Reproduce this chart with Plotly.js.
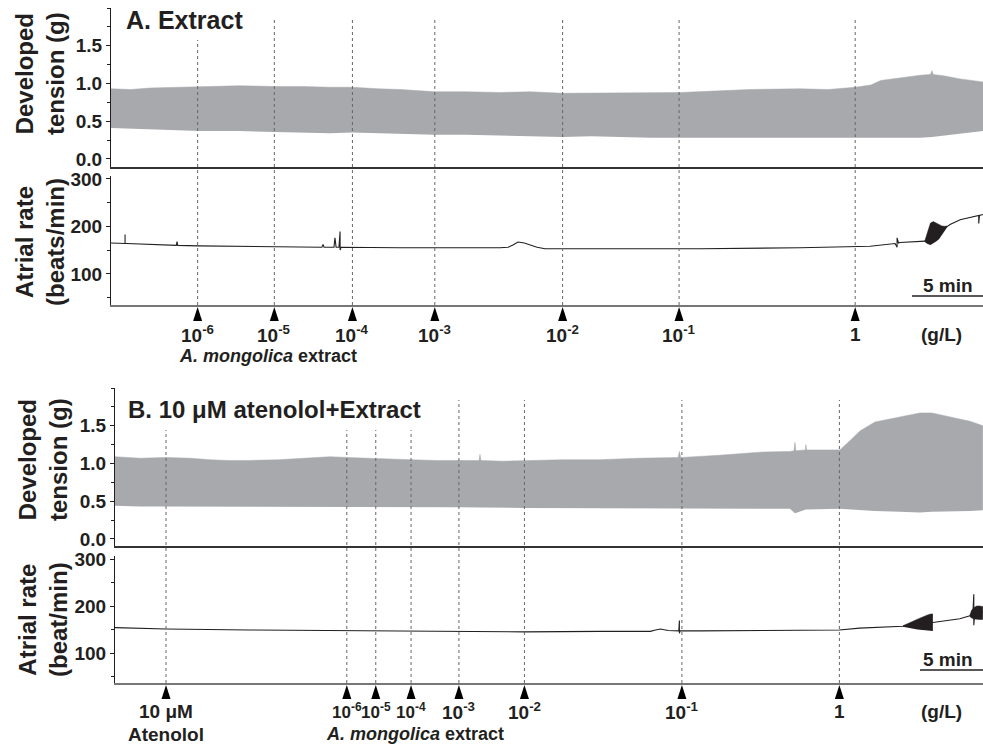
<!DOCTYPE html>
<html><head><meta charset="utf-8">
<script src="https://cdn.plot.ly/plotly-3.0.1.min.js"></script>
<style>html,body{margin:0;padding:0;background:#fff}#chart{width:983px;height:744px}</style>
</head><body><div id="chart"></div>
<script>
// ===================== DATA (time in minutes) =====================
// Panel A : extract alone
const eventsA = [6.1, 11.5, 17.0, 22.8, 31.8, 40.0, 52.4];
const eventLabelsA = ['10<sup>-6</sup>','10<sup>-5</sup>','10<sup>-4</sup>','10<sup>-3</sup>','10<sup>-2</sup>','10<sup>-1</sup>','1'];

const tensionA_hiT = [0, 1.4, 2.75, 4.5, 6.27, 9.0, 11.5, 13.5, 15.4, 17.0, 18.8, 20.4, 22.8, 25.0, 27.4, 29.5, 31.8, 33.8, 35.8, 38.0, 40.1, 42.5, 45.0, 48.5, 50.5, 52.4, 53.5, 54.2, 55.6, 57.0, 57.7, 57.8, 57.9, 58.7, 59.8, 61.4];
const tensionA_hi  = [0.93, 0.92, 0.94, 0.95, 0.96, 0.97, 0.96, 0.96, 0.95, 0.95, 0.93, 0.92, 0.89, 0.89, 0.88, 0.89, 0.87, 0.87, 0.87, 0.88, 0.88, 0.90, 0.92, 0.93, 0.92, 0.95, 0.98, 1.04, 1.08, 1.11, 1.12, 1.17, 1.12, 1.10, 1.06, 1.02];
const tensionA_loT = [0, 1.4, 2.75, 4.5, 6.27, 9.0, 11.5, 13.5, 15.4, 17.0, 18.8, 20.4, 22.8, 25.0, 27.4, 29.5, 31.8, 33.8, 35.8, 38.0, 40.1, 42.5, 45.0, 48.5, 50.5, 52.4, 53.5, 54.2, 55.6, 57.0, 57.8, 58.7, 59.8, 61.4];
const tensionA_lo  = [0.41, 0.40, 0.40, 0.38, 0.37, 0.37, 0.36, 0.35, 0.34, 0.35, 0.34, 0.33, 0.32, 0.32, 0.31, 0.30, 0.29, 0.30, 0.29, 0.28, 0.28, 0.28, 0.28, 0.28, 0.27, 0.27, 0.28, 0.27, 0.28, 0.28, 0.29, 0.31, 0.33, 0.37];

const rateA_t = [0, 0.99, 0.99, 0.99, 1.1, 4.6, 4.65, 4.7, 6.13, 11.48, 14.85, 14.93, 15.0, 15.7, 15.77, 15.85, 16.05, 16.13, 16.13, 16.2, 20.35, 27.39, 27.96, 28.3, 28.66, 29.1, 29.51, 30.0, 30.56, 34.44, 41.48, 48.52, 52.39, 53.45, 55.21, 55.35, 55.35, 55.45, 55.56, 56.97, 57.32, 58.9, 59.08, 59.79, 60.85, 61.1, 61.1, 61.15, 61.41];
const rateA_v = [165, 164, 183, 164, 164, 160, 168, 160, 159, 157, 156, 162, 156, 156, 176, 156, 156, 189, 150, 156, 155, 155, 156, 161, 167, 165, 161, 156, 153, 152.5, 153, 155, 157, 158, 164, 156, 176, 165, 166, 168, 169, 200, 204, 214, 221, 223, 206, 223, 225];
const burstA_t  = [57.3, 57.5, 57.7, 57.9, 58.1, 58.3, 58.5, 58.7, 58.9];
const burstA_hi = [169, 189, 207, 210, 207, 204, 201, 200, 201];
const burstA_lo = [167, 163, 161, 164, 168, 173, 181, 191, 199];

// Panel B : 10 uM atenolol + extract
const eventsB = [4.05, 18.4, 20.7, 23.5, 27.3, 32.5, 45.0, 57.5];
const eventLabelsB = ['10 μM','10<sup>-6</sup>','10<sup>-5</sup>','10<sup>-4</sup>','10<sup>-3</sup>','10<sup>-2</sup>','10<sup>-1</sup>','1'];

const tensionB_hiT = [0, 2.0, 4.05, 6.0, 7.54, 9.0, 10.71, 13.0, 15.0, 17.06, 18.41, 21.0, 23.49, 25.5, 27.3, 28.9, 28.97, 29.05, 30.8, 32.54, 35.5, 38.49, 41.5, 44.7, 44.8, 44.9, 45.0, 48.0, 51.19, 53.57, 53.9, 53.97, 54.05, 54.8, 54.84, 54.9, 57.54, 58.33, 59.13, 60.32, 62.3, 63.89, 64.84, 66.27, 67.86, 68.89];
const tensionB_hi  = [1.09, 1.07, 1.08, 1.07, 1.05, 1.04, 1.04, 1.05, 1.07, 1.09, 1.08, 1.06, 1.05, 1.04, 1.04, 1.04, 1.12, 1.04, 1.03, 1.04, 1.05, 1.05, 1.07, 1.08, 1.16, 1.08, 1.08, 1.11, 1.15, 1.16, 1.17, 1.28, 1.17, 1.18, 1.25, 1.18, 1.18, 1.30, 1.43, 1.55, 1.62, 1.67, 1.67, 1.62, 1.56, 1.50];
const tensionB_loT = [0, 2.0, 4.05, 7.54, 10.71, 14.0, 17.06, 18.41, 23.49, 27.3, 32.54, 38.49, 45.0, 48.0, 51.19, 53.57, 53.97, 54.84, 57.54, 58.33, 59.13, 60.32, 62.3, 63.89, 64.84, 66.27, 67.86, 68.89];
const tensionB_lo  = [0.44, 0.43, 0.43, 0.43, 0.42, 0.43, 0.42, 0.42, 0.42, 0.42, 0.41, 0.41, 0.40, 0.40, 0.40, 0.40, 0.34, 0.39, 0.40, 0.39, 0.38, 0.37, 0.36, 0.35, 0.36, 0.36, 0.37, 0.38];

const rateB_t = [0, 4.05, 10.7, 17.1, 22.6, 28.0, 32.5, 38.5, 42.5, 42.9, 43.3, 43.9, 44.75, 44.8, 44.8, 44.85, 46.4, 51.2, 57.5, 59.1, 62.54, 64.92, 67.06, 67.86, 68.1, 68.17, 68.17, 68.25, 68.5, 68.89];
const rateB_v = [154, 151, 149, 148, 148, 146, 145, 146, 146, 149, 151, 148, 147, 169, 142, 147, 147, 148, 149, 153, 157, 165, 173, 179, 185, 225, 159, 186, 187, 187];
const burstB1_t  = [62.54, 62.9, 63.3, 63.7, 64.1, 64.5, 64.76, 64.92];
const burstB1_hi = [158, 163, 167, 172, 177, 181, 183, 183];
const burstB1_lo = [156, 154, 152, 150, 149, 148, 147, 147];
const burstB2_t  = [67.86, 68.0, 68.2, 68.4, 68.6, 68.89];
const burstB2_hi = [181, 191, 197, 200, 200, 199];
const burstB2_lo = [177, 174, 172, 171, 171, 171];

const scaleBarMin = 5;

// ===================== LAYOUT HELPERS =====================
const W = 983, H = 744;
const py = px => 1 - px / H;          // pixel row -> paper y
const pxX = px => px / W;             // pixel col -> paper x
const dom = (bottomPx, topPx) => [py(bottomPx), py(topPx)];

const GRAY = '#a7a9ac', INK = '#231f20';
const FONT = 'Liberation Sans, Arial, Helvetica, sans-serif';

const rangeAx = [0, 61.4], rangeBx = [0, 68.9];
const rangeTA = [-0.107, 2.0], rangeRA = [34.5, 306];
const rangeTB = [-0.093, 2.0], rangeRB = [36.2, 306.4];
const xDomA = [pxX(111), 1], xDomB = [pxX(115), 1];
const domTA = dom(167, 8), domRA = dom(305, 176);
const domTB = dom(546, 388), domRB = dom(683, 556);

const traces = [];
function band(tLo, lo, tHi, hi, xa, ya, color) {
  traces.push({x: tLo, y: lo, xaxis: xa, yaxis: ya, mode: 'lines', line: {width: 0, color: color}, hoverinfo: 'skip', showlegend: false});
  traces.push({x: tHi, y: hi, xaxis: xa, yaxis: ya, mode: 'lines', line: {width: 0.5, color: color}, fill: 'tonexty', fillcolor: color, hoverinfo: 'skip', showlegend: false});
}
band(tensionA_loT, tensionA_lo, tensionA_hiT, tensionA_hi, 'x', 'y', GRAY);
band(tensionB_loT, tensionB_lo, tensionB_hiT, tensionB_hi, 'x3', 'y3', GRAY);
traces.push({x: rateA_t, y: rateA_v, xaxis: 'x2', yaxis: 'y2', mode: 'lines', line: {width: 1.1, color: INK}, hoverinfo: 'skip', showlegend: false});
band(burstA_t, burstA_lo, burstA_t, burstA_hi, 'x2', 'y2', INK);
traces.push({x: rateB_t, y: rateB_v, xaxis: 'x4', yaxis: 'y4', mode: 'lines', line: {width: 1.1, color: INK}, hoverinfo: 'skip', showlegend: false});
band(burstB1_t, burstB1_lo, burstB1_t, burstB1_hi, 'x4', 'y4', INK);
band(burstB2_t, burstB2_lo, burstB2_t, burstB2_hi, 'x4', 'y4', INK);

// ===================== AXES =====================
const tickFont = {family: FONT, size: 19, color: INK, weight: 700};
function xAx(domain, anchor, range, lineColor, lineWidth) {
  return {domain: domain, anchor: anchor, range: range, showticklabels: false, ticks: '', showgrid: false, zeroline: false,
    showline: true, linecolor: lineColor, linewidth: lineWidth, fixedrange: true};
}
function yAx(domain, anchor, range, vals, fmt, minorStep) {
  return {domain: domain, anchor: anchor, range: range, tickvals: vals, tickformat: fmt, tickfont: tickFont,
    ticks: 'outside', ticklen: 4, tickcolor: INK, showgrid: false, zeroline: false, showline: true, linecolor: INK, linewidth: 1,
    minor: {dtick: minorStep, ticks: 'outside', ticklen: 3, tickcolor: INK, showgrid: false}, fixedrange: true};
}

// ===================== SHAPES & ANNOTATIONS =====================
const shapes = [], annotations = [];
const titleEndA = 9.5, titleEndB = 24.2;   // minutes covered by the panel titles
const lineStyle = {color: '#666', width: 1, dash: 'dot'};
eventsA.forEach(t => shapes.push({type: 'line', xref: 'x2', yref: 'paper', x0: t, x1: t,
  y0: domRA[0], y1: py(t < titleEndA ? 40 : 18), line: lineStyle, layer: 'above'}));
eventsB.forEach(t => shapes.push({type: 'line', xref: 'x4', yref: 'paper', x0: t, x1: t,
  y0: domRB[0], y1: py(t < titleEndB ? 430 : 400), line: lineStyle, layer: 'above'}));

// arrowheads (narrow filled triangles) under the rate axes
function arrowShapes(events, xref, range, domain, tipPx, basePx) {
  const minPerPx = (range[1] - range[0]) / ((domain[1] - domain[0]) * W);
  const hw = 4.5 * minPerPx;
  events.forEach(t => shapes.push({type: 'path', xref: xref, yref: 'paper',
    path: `M ${t - hw},${py(basePx)} L ${t},${py(tipPx)} L ${t + hw},${py(basePx)} Z`,
    fillcolor: '#000', line: {width: 0}}));
}
arrowShapes(eventsA, 'x2', rangeAx, xDomA, 307, 321);
arrowShapes(eventsB, 'x4', rangeBx, xDomB, 685, 699);

// 5 min scale bars
shapes.push({type: 'line', xref: 'x2', yref: 'paper', x0: rangeAx[1] - scaleBarMin, x1: rangeAx[1], y0: py(296), y1: py(296), line: {color: INK, width: 1.5}});
shapes.push({type: 'line', xref: 'x4', yref: 'paper', x0: rangeBx[1] - scaleBarMin, x1: rangeBx[1], y0: py(670), y1: py(670), line: {color: INK, width: 1.5}});

function txt(text, x, y, size, opts) {
  annotations.push(Object.assign({text: text, x: x, y: y, xref: 'paper', yref: 'paper', showarrow: false,
    xanchor: 'center', yanchor: 'middle', font: {family: FONT, size: size, color: INK}}, opts || {}));
}
// panel titles
txt('<b>A. Extract</b>', pxX(124), py(20), 25, {xanchor: 'left'});
txt('<b>B. 10 μM atenolol+Extract</b>', pxX(126), py(410), 24, {xanchor: 'left'});
// y titles
txt('<b>Developed<br>tension (g)</b>', pxX(40), py(74), 24, {textangle: -90});
txt('<b>Atrial rate<br>(beats/min)</b>', pxX(40), py(242), 24, {textangle: -90});
txt('<b>Developed<br>tension (g)</b>', pxX(43), py(460), 24, {textangle: -90});
txt('<b>Atrial rate<br>(beat/min)</b>', pxX(43), py(620), 24, {textangle: -90});
// concentration labels
eventsA.forEach((t, i) => annotations.push({text: '<b>' + eventLabelsA[i] + '</b>', x: t, xref: 'x2', y: py(334), yref: 'paper',
  showarrow: false, xanchor: 'center', yanchor: 'middle', font: {family: FONT, size: 19, color: INK}}));
eventsB.forEach((t, i) => annotations.push({text: '<b>' + eventLabelsB[i] + '</b>', x: t, xref: 'x4', y: py(711), yref: 'paper',
  showarrow: false, xanchor: 'center', yanchor: 'middle', font: {family: FONT, size: i >= 1 && i <= 3 ? 17 : 19, color: INK}}));
annotations.push({text: '<b>Atenolol</b>', x: eventsB[0], xref: 'x4', y: py(734), yref: 'paper', showarrow: false,
  xanchor: 'center', yanchor: 'middle', font: {family: FONT, size: 19, color: INK}});
txt('<b><i>A. mongolica</i> extract</b>', pxX(268), py(356), 18);
txt('<b><i>A. mongolica</i> extract</b>', pxX(415), py(734), 18);
txt('<b>(g/L)</b>', pxX(941), py(334), 19);
txt('<b>(g/L)</b>', pxX(941), py(711), 19);
txt('<b>5 min</b>', pxX(948), py(285), 19);
txt('<b>5 min</b>', pxX(921), py(659), 19, {xanchor: 'left'});

const layout = {
  width: W, height: H, margin: {l: 0, r: 0, t: 0, b: 0}, paper_bgcolor: '#fff', plot_bgcolor: 'rgba(0,0,0,0)',
  showlegend: false, font: {family: FONT, color: INK},
  xaxis: xAx(xDomA, 'y', rangeAx, '#333', 1.5),
  yaxis: yAx(domTA, 'x', rangeTA, [0, 0.5, 1.0, 1.5], '.1f', 0.25),
  xaxis2: xAx(xDomA, 'y2', rangeAx, '#777', 2),
  yaxis2: yAx(domRA, 'x2', rangeRA, [100, 200, 300], 'd', 50),
  xaxis3: xAx(xDomB, 'y3', rangeBx, '#333', 1.5),
  yaxis3: yAx(domTB, 'x3', rangeTB, [0, 0.5, 1.0, 1.5], '.1f', 0.25),
  xaxis4: xAx(xDomB, 'y4', rangeBx, '#777', 2),
  yaxis4: yAx(domRB, 'x4', rangeRB, [100, 200, 300], 'd', 50),
  shapes: shapes, annotations: annotations
};
Plotly.newPlot('chart', traces, layout, {displayModeBar: false, staticPlot: true});
</script>
</body></html>
